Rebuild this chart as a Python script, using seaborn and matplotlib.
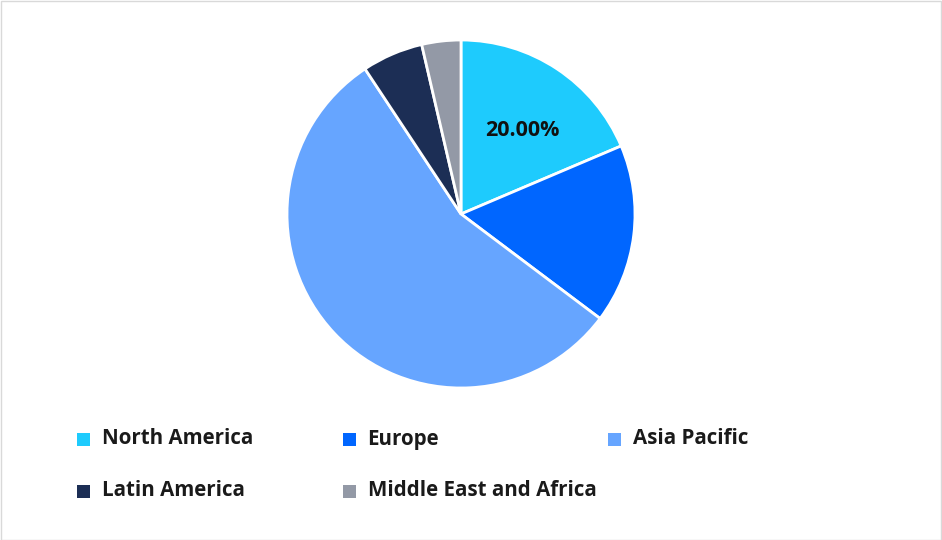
import matplotlib
matplotlib.use("Agg")
import matplotlib.pyplot as plt
import seaborn as sns
from matplotlib.patches import Rectangle

regions = ["North America", "Europe", "Asia Pacific", "Latin America", "Middle East and Africa"]
# values; the chart's own label for the first slice says 20.00%
values = [20.0, 17.9, 59.6, 6.1, 3.9]
colors = ["#1ECBFD", "#0066FF", "#66A5FF", "#1C2E55", "#9399A6"]

sns.set_theme(style="white")
plt.rcParams["font.family"] = ["Open Sans", "DejaVu Sans"]

fig = plt.figure(figsize=(9.42, 5.40), dpi=100)
fig.patch.set_facecolor("white")

# pie area: centre ~ (461, 214) px, radius ~ 174 px
ax = fig.add_axes([287 / 942, (540 - 214 - 174) / 540, 348 / 942, 348 / 540])
wedges, _ = ax.pie(values, colors=colors, startangle=90, counterclock=False,
                   wedgeprops=dict(edgecolor="white", linewidth=2))
ax.set_xlim(-1, 1)
ax.set_ylim(-1, 1)
ax.set_aspect("equal")
ax.axis("off")

# only the first slice is labelled
ax.text(0.355, 0.48, f"{values[0]:.2f}%", ha="center", va="center",
        fontsize=15.5, fontweight="bold", color="#111111")

# legend, 3 columns
for i, (name, c) in enumerate(zip(regions, colors)):
    col, row = i % 3, i // 3
    x = 77 + col * 265.5
    y = 439 + row * 52
    fig.patches.append(Rectangle((x / 942, (540 - y - 6.5) / 540), 13 / 942, 13 / 540,
                                 transform=fig.transFigure, facecolor=c, edgecolor="none"))
    fig.text((x + 25) / 942, (540 - y) / 540, name, ha="left", va="center",
             fontsize=14.8, fontweight="bold", color="#1a1a1a")

# thin outer border
fig.patches.append(Rectangle((0.5 / 942, 0.5 / 540), 940.5 / 942, 538.5 / 540,
                             transform=fig.transFigure, facecolor="none",
                             edgecolor="#d9d9d9", linewidth=1))

fig.savefig("out.png", dpi=100)
